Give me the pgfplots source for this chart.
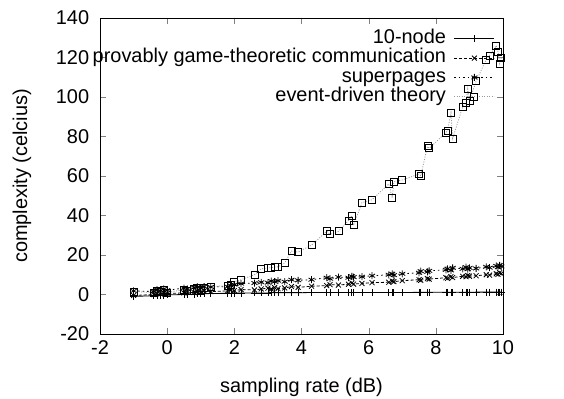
\documentclass[border=0pt]{standalone}
\usepackage{fontspec}
\setmainfont{Liberation Sans}
\usepackage{pgfplots}
\usepackage{pgfplotstable}
\pgfplotsset{compat=1.18}
\pgfplotstableread{
x a b c d
-1.0 -1.0 -0.5 1.8 1.5
-0.4 -0.6 0.0 1.5 1.0
-0.3 -0.5 0.5 2.5 2.0
-0.2 -0.4 0.3 2.0 1.5
-0.1 -0.3 0.8 2.8 2.5
0.0 -0.2 0.5 2.2 1.0
0.5 0.0 0.8 3.2 2.5
0.6 0.1 1.2 2.8 2.0
0.8 0.2 1.0 3.5 3.0
0.9 0.3 1.5 3.8 3.5
1.0 0.3 1.3 3.3 2.5
1.1 0.4 1.8 4.0 3.5
1.3 0.5 1.5 3.8 4.0
1.8 0.6 1.8 4.0 4.5
1.9 0.6 2.2 4.5 5.0
2.0 0.7 2.0 5.0 6.5
2.2 0.7 2.5 5.5 7.5
2.6 0.8 2.3 5.8 10
2.8 0.8 2.8 6.2 13
3.0 0.8 3.2 6.0 13.5
3.1 0.9 2.8 6.8 13.5
3.2 0.9 3.5 6.5 14
3.3 0.9 3.0 7.0 14
3.5 0.9 3.3 6.5 16
3.7 0.9 4.0 7.5 22
3.9 0.9 3.6 7.2 21.5
4.3 1.0 4.2 7.5 25
4.75 1.0 4.5 8.5 32
4.85 1.0 5.0 8.0 30.5
5.1 1.0 4.8 8.8 32
5.4 1.0 5.2 8.5 37.5
5.5 1.0 5.8 9.2 40
5.55 1.0 5.3 8.8 35
5.8 1.0 5.6 9.0 46.5
6.1 1.0 6.0 9.5 48
6.6 1.0 6.2 10.0 56
6.7 1.0 6.8 10.5 49
6.75 1.0 6.5 9.8 57
7.0 1.0 7.0 10.5 58
7.5 1.1 7.5 11.0 61
7.55 1.1 7.2 11.8 60
7.75 1.1 8.0 11.5 75
7.8 1.1 7.8 12.0 74
8.3 1.1 8.5 12.5 82
8.35 1.1 8.2 13.0 83
8.45 1.1 9.0 12.2 92
8.5 1.1 8.6 13.5 79
8.8 1.1 9.2 13.0 95
8.9 1.1 9.0 13.8 97
8.95 1.1 9.6 12.8 104
9.0 1.1 9.3 13.5 98
9.2 1.2 9.5 13.2 108
9.5 1.2 10.0 14.0 119
9.6 1.2 9.8 13.6 121
9.8 1.2 10.5 14.5 126
9.85 1.2 10.2 13.8 123
9.9 1.2 11.0 14.8 117
9.95 1.2 10.6 14.2 120
}\data
\begin{document}
\fontsize{20}{24}\selectfont
\begin{tikzpicture}
\begin{axis}[
  name=ax,
  width=403bp, height=316bp, scale only axis,
  xmin=-2, xmax=10, ymin=-20, ymax=140,
  xtick={-2,0,...,10}, ytick={-20,0,...,140},
  tick align=inside, major tick length=6bp,
  xtick pos=both, ytick pos=both,
  /pgf/number format/assume math mode=true,
  tick label style={font=\fontsize{20}{24}\selectfont},
  yticklabel style={xshift=-4bp},
  every axis x label/.style={at={([yshift=-53bp]axis description cs:0.5,0)}, anchor=center},
  every axis y label/.style={at={([xshift=-78bp]axis description cs:0,0.5)}, anchor=center, rotate=90},
  label style={font=\fontsize{20}{24}\selectfont},
  xlabel={sampling rate (dB)},
  ylabel={complexity (celcius)},
  axis line style={line width=0.8bp},
  legend style={at={(1,1)}, anchor=north east, xshift=-8bp, yshift=-11bp,
    draw=none, fill=none, inner sep=0pt, row sep=0pt, column sep=8bp,
    font=\fontsize{20}{20}\selectfont,
    nodes={inner sep=0pt, text height=14.5bp, text depth=4.8bp}},
  legend cell align=right,
  legend plot pos=right,
  legend image code/.code={\draw[mark repeat=2,mark phase=2,#1] plot coordinates {(0bp,0bp) (20bp,0bp) (40bp,0bp)};},
  every axis plot/.append style={line width=0.8bp},
]
\addplot[black, mark=+, mark size=3.5bp] table[x=x,y=a] {\data};
\addlegendentry{10-node}
\addplot[black, dash pattern=on 3bp off 2bp, mark=x, mark size=3.5bp, mark options={solid}] table[x=x,y=b] {\data};
\addlegendentry{provably game-theoretic communication}
\addplot[black, dash pattern=on 1.5bp off 3bp, mark=asterisk, mark size=3.5bp, mark options={solid}] table[x=x,y=c] {\data};
\addlegendentry{superpages}
\addplot[gray!80, dash pattern=on 1bp off 1.5bp, mark=square, mark size=3.5bp, mark options={solid, draw=black}] table[x=x,y=d] {\data};
\addlegendentry{event-driven theory}
\end{axis}
\pgfresetboundingbox
\path ([xshift=-100bp,yshift=-65bp]ax.south west) rectangle ([xshift=61bp,yshift=18bp]ax.north east);
\end{tikzpicture}
\end{document}
